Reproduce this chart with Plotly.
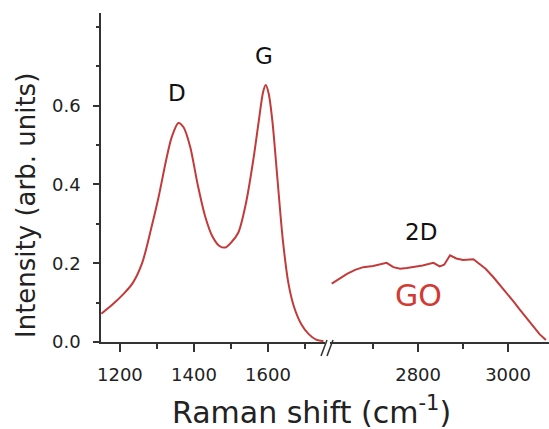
import plotly.graph_objects as go

# ---- data ----
wn_left = [1150, 1180, 1210, 1235, 1260, 1285, 1305, 1325, 1340, 1358, 1372, 1390,
           1410, 1430, 1450, 1470, 1485, 1500, 1520, 1540, 1560, 1575, 1587, 1594,
           1602, 1612, 1625, 1640, 1655, 1670, 1690, 1710, 1730, 1750]
int_left = [0.072, 0.095, 0.122, 0.150, 0.200, 0.290, 0.370, 0.462, 0.520, 0.556,
            0.545, 0.495, 0.400, 0.320, 0.268, 0.243, 0.240, 0.252, 0.278, 0.350,
            0.460, 0.560, 0.635, 0.652, 0.630, 0.560, 0.420, 0.260, 0.150, 0.090,
            0.045, 0.020, 0.006, 0.002]
wn_right = [2608, 2625, 2642, 2660, 2678, 2700, 2715, 2730, 2745, 2760, 2775, 2790,
            2810, 2834, 2848, 2858, 2871, 2885, 2900, 2923, 2935, 2950, 2967, 2982,
            2997, 3012, 3027, 3042, 3056, 3070, 3084]
int_right = [0.148, 0.160, 0.173, 0.183, 0.190, 0.193, 0.197, 0.201, 0.190, 0.186,
             0.188, 0.190, 0.194, 0.201, 0.192, 0.196, 0.220, 0.212, 0.208, 0.210,
             0.200, 0.186, 0.165, 0.145, 0.123, 0.103, 0.081, 0.060, 0.039, 0.020,
             0.005]
left_ticks = [1200, 1400, 1600]
left_minor = [1300, 1500, 1700]
right_ticks = [2800, 3000]
right_minor = [2700, 2900]
y_ticks = [0.0, 0.2, 0.4, 0.6]
y_minor = [0.1, 0.3, 0.5, 0.7, 0.8]

LINE = "#c23b3a"
AX = "#333333"
FONT = "DejaVu Sans"

fig = go.Figure()
fig.add_trace(go.Scatter(x=wn_left, y=int_left, mode="lines", xaxis="x", yaxis="y",
                         line=dict(color=LINE, width=2, shape="spline", smoothing=0.8),
                         showlegend=False))
fig.add_trace(go.Scatter(x=wn_right, y=int_right, mode="lines", xaxis="x2", yaxis="y",
                         line=dict(color=LINE, width=2), showlegend=False))

xcommon = dict(showline=True, linecolor=AX, linewidth=1.5, ticks="outside", ticklen=8,
               tickwidth=1.5, tickcolor=AX, showgrid=False, zeroline=False,
               tickfont=dict(family=FONT, size=18, color="#222"), ticklabelstandoff=8)

fig.update_layout(
    width=549, height=429,
    margin=dict(l=101, r=0, t=13, b=87),
    paper_bgcolor="white", plot_bgcolor="white",
    xaxis=dict(domain=[0, 0.5], range=[1149, 1754], tickmode="array",
               tickvals=left_ticks, ticktext=[str(v) for v in left_ticks],
               minor=dict(tickvals=left_minor, ticklen=5, tickcolor=AX, tickwidth=1.5,
                          ticks="outside"),
               anchor="y", **xcommon),
    xaxis2=dict(domain=[0.511, 1], range=[2604, 3091], tickmode="array",
                tickvals=right_ticks, ticktext=[str(v) for v in right_ticks],
                minor=dict(tickvals=right_minor, ticklen=5, tickcolor=AX, tickwidth=1.5,
                           ticks="outside"),
                anchor="y", **xcommon),
    yaxis=dict(range=[0, 0.835], showline=True, linecolor=AX, linewidth=1.5,
               ticks="outside", ticklen=6, tickwidth=1.5, tickcolor=AX,
               tickmode="array", tickvals=y_ticks, ticktext=["%.1f" % v for v in y_ticks],
               minor=dict(tickvals=y_minor, ticklen=3, tickcolor=AX, tickwidth=1.5,
                          ticks="outside"),
               showgrid=False, zeroline=False, ticklabelstandoff=9,
               tickfont=dict(family=FONT, size=18, color="#222")),
    annotations=[
        dict(text="D", x=1354, y=0.631, xref="x", yref="y", showarrow=False,
             font=dict(family=FONT, size=23, color="#111")),
        dict(text="G", x=1589, y=0.727, xref="x", yref="y", showarrow=False,
             font=dict(family=FONT, size=23, color="#111")),
        dict(text="2D", x=2807, y=0.28, xref="x2", yref="y", showarrow=False,
             font=dict(family=FONT, size=23, color="#111")),
        dict(text="GO", x=2800, y=0.119, xref="x2", yref="y", showarrow=False,
             font=dict(family=FONT, size=30, color="#d23a34")),
        dict(text="Raman shift (cm<sup>-1</sup>)", x=(311 - 101) / 448, y=-68 / 329,
             xref="paper", yref="paper", showarrow=False, xanchor="center", yanchor="middle",
             font=dict(family=FONT, size=30, color="#222")),
        dict(text="Intensity (arb. units)", x=(26 - 101) / 448, y=(342 - 206) / 329,
             xref="paper", yref="paper", showarrow=False, textangle=-90,
             xanchor="center", yanchor="middle",
             font=dict(family=FONT, size=26, color="#222")),
    ],
    shapes=[
        dict(type="line", xref="paper", yref="paper",
             x0=(321 - 101) / 448, y0=-14 / 329, x1=(327 - 101) / 448, y1=2 / 329,
             line=dict(color=AX, width=1.5)),
        dict(type="line", xref="paper", yref="paper",
             x0=(327 - 101) / 448, y0=-14 / 329, x1=(333 - 101) / 448, y1=2 / 329,
             line=dict(color=AX, width=1.5)),
    ],
)

fig.write_html("out.html")
